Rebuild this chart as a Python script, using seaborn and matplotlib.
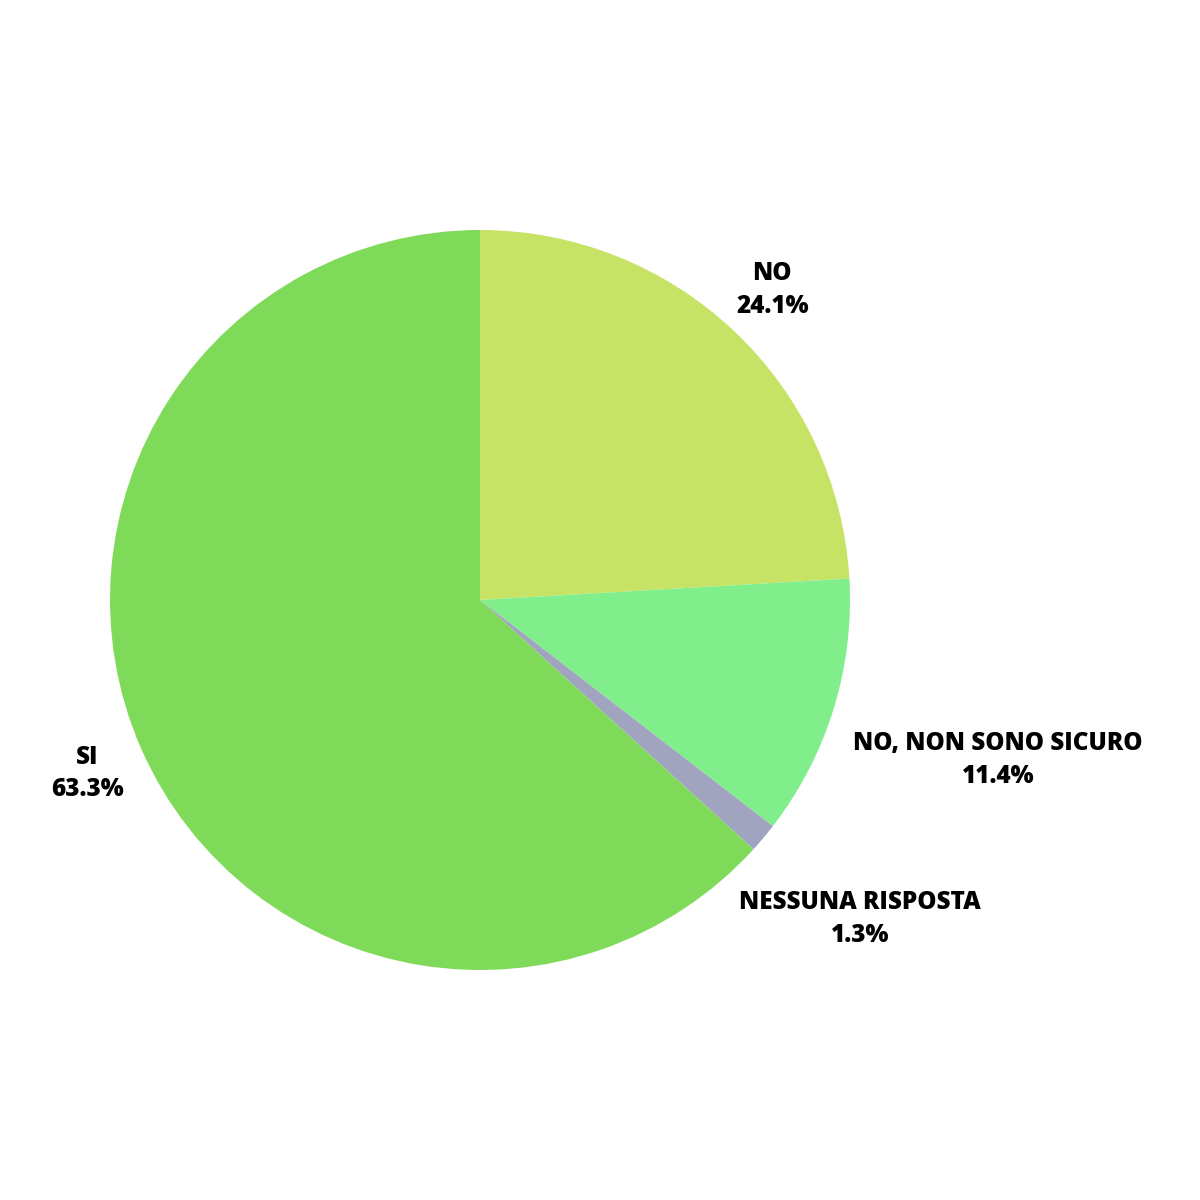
import numpy as np
import seaborn as sns
import matplotlib
import matplotlib.pyplot as plt

# Data.
categories = ['NO', 'NO, NON SONO SICURO', 'NESSUNA RISPOSTA', 'SI']
values = [24.1, 11.4, 1.3, 63.3]
colors = ['#C7E366', '#80EF8B', '#A1A4BF', '#80DA5A']


def main():
    sns.set_theme(style='white')
    matplotlib.rcParams['font.family'] = ['Open Sans', 'DejaVu Sans']

    fig = plt.figure(figsize=(12, 12), dpi=100)
    ax = fig.add_axes([17.5 / 1200, 137.5 / 1200, 925 / 1200, 925 / 1200])

    palette = sns.color_palette(colors)
    ax.pie(values, colors=palette, startangle=90, counterclock=False,
           wedgeprops={'linewidth': 0})

    # Labels placed along each slice's mid angle.
    label_dist = [1.151, 1.466, 1.34, 1.16]
    cum = np.cumsum([0] + values[:-1])
    total = sum(values)
    for cat, val, c, d in zip(categories, values, cum, label_dist):
        mid = (c + val / 2) / total * 2 * np.pi
        x = d * np.sin(mid)
        y = d * np.cos(mid)
        ax.text(x, y, f'{cat}\n{val:.1f}%', ha='center', va='center',
                fontsize=17.5, fontweight='heavy', color='black',
                linespacing=1.4, clip_on=False)

    plt.savefig('out.png', dpi=100)
    plt.close()


if __name__ == '__main__':
    main()
